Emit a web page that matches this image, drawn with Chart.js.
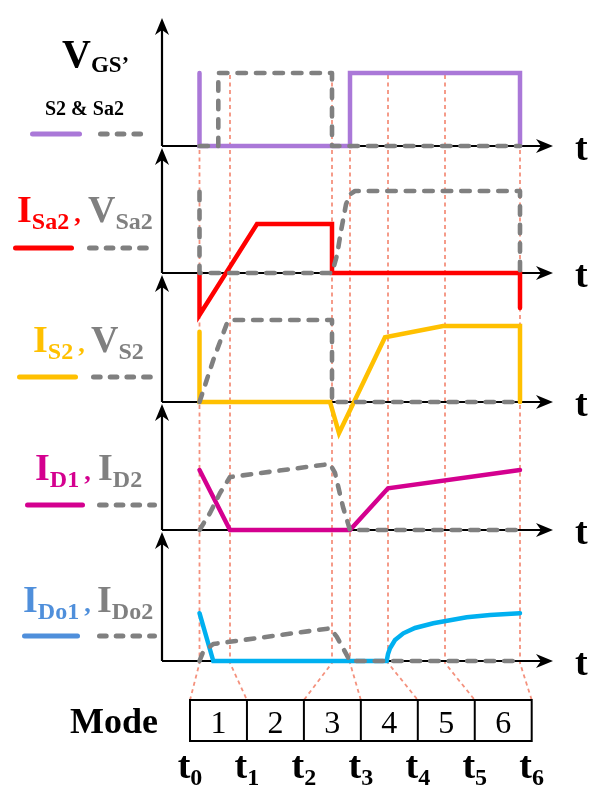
<!DOCTYPE html>
<html>
<head>
<meta charset="utf-8">
<script src="https://cdn.jsdelivr.net/npm/chart.js@4.4.1/dist/chart.umd.min.js"></script>
<style>
  body { margin: 0; background: #fff; }
  #wrap { position: relative; width: 597px; height: 799px; overflow: hidden; }
  canvas { position: absolute; left: 0; top: 0; }
  .lbl { position: absolute; font-family: "Liberation Serif", "Times New Roman", serif; font-weight: bold; font-size: 38px; line-height: 1; white-space: nowrap; }
  .lbl sub { font-size: 24px; vertical-align: -7px; line-height: 1; }
  .lbl .cm { font-size: 26px; margin-left: 5px; }
  .num { font-weight: normal; text-align: center; }
</style>
</head>
<body>
<div id="wrap">
  <canvas id="waveChart" width="597" height="799"></canvas>

  <div class="lbl" style="left:62px;top:34px;font-size:40px">V<sub style="font-size:23px;vertical-align:-5px">GS’</sub></div>
  <div class="lbl" style="left:45px;top:98px;font-size:20px">S2 &amp; Sa2</div>

  <div class="lbl" style="left:17px;top:190px;color:#ff0000">I<sub>Sa2</sub><span class="cm">,</span></div>
  <div class="lbl" style="left:88px;top:190px;color:#808080">V<sub>Sa2</sub></div>

  <div class="lbl" style="left:33px;top:320px;color:#ffc000">I<sub>S2</sub><span class="cm">,</span></div>
  <div class="lbl" style="left:91px;top:320px;color:#808080">V<sub>S2</sub></div>

  <div class="lbl" style="left:35px;top:448px;color:#d4008f">I<sub>D1</sub><span class="cm">,</span></div>
  <div class="lbl" style="left:98px;top:448px;color:#808080">I<sub>D2</sub></div>

  <div class="lbl" style="left:23px;top:580px;color:#4f8fdb">I<sub>Do1</sub><span class="cm">,</span></div>
  <div class="lbl" style="left:97px;top:580px;color:#808080">I<sub>Do2</sub></div>

  <div class="lbl" style="left:70px;top:703px;font-size:36px">Mode</div>
</div>

<script>
// time marks t0..t6 (x axis runs 0 .. 3.91)
const tTimes = [0.375, 0.68, 1.70, 1.88, 2.26, 2.83, 3.58];
const tLabels = ["0", "1", "2", "3", "4", "5", "6"];
const modeLabels = ["1", "2", "3", "4", "5", "6"];
const T = tTimes;
const X_MAX = 3.91;

// panel 1 : V_GS of S2 (solid) and Sa2 (dashed)
const vgsS2 = [[T[0], 0.575], [T[0], 0], [T[3], 0], [T[3], 0.575], [T[6], 0.575], [T[6], 0]];
const vgsSa2 = [[T[0], 0], [0.563, 0], [0.563, 0.575], [T[2], 0.575], [T[2], 0], [T[6], 0]];

// panel 2 : I_Sa2, V_Sa2
const iSa2 = [[T[0], 0], [T[0], -0.33], [0.95, 0.386], [T[2], 0.386], [T[2], 0], [T[6], 0], [T[6], -0.276]];
const vSa2 = [[T[0], 0.64], [T[0], 0], [T[2], 0], [1.75, 0.14], [1.79, 0.33], [1.84, 0.54], [1.88, 0.62], [1.93, 0.646], [T[6], 0.646], [T[6], 0]];

// panel 3 : I_S2, V_S2
const iS2 = [[T[0], 0.554], [T[0], 0], [1.68, 0], [1.77, -0.246], [2.23, 0.509], [2.81, 0.598], [T[6], 0.598], [T[6], 0]];
const vS2 = [[T[0], 0], [0.447, 0.173], [0.513, 0.331], [0.613, 0.543], [0.65, 0.62], [T[1], 0.646], [T[2], 0.646], [T[2], 0], [T[6], 0]];

// panel 4 : I_D1, I_D2
const iD1 = [[T[0], 0.472], [T[1], 0], [T[3], 0], [T[4], 0.328], [T[6], 0.472]];
const iD2 = [[T[0], 0], [0.48, 0.134], [0.58, 0.291], [T[1], 0.417], [1.68, 0.52], [1.73, 0.449], [1.81, 0.181], [T[3], 0], [T[6], 0]];

// panel 5 : I_Do1, I_Do2
const iDo1 = [[T[0], 0.376], [0.513, 0], [2.247, 0], [2.26, 0.055], [2.28, 0.1], [2.33, 0.165], [2.413, 0.218],
  [2.53, 0.26], [2.713, 0.297], [3.047, 0.344], [3.28, 0.362], [T[6], 0.376]];
const iDo2 = [[T[0], 0], [0.41, 0.07], [0.513, 0.134], [1.68, 0.257], [1.747, 0.192], [T[3], 0], [T[6], 0]];

// layout
const H = 799;
const PANEL_BASE = [146, 273, 402, 530, 661];
const UNIT = 127;
const GRAY = "#808080";
const BOX = { left: 190, top: 700, cellW: 56.95, h: 41 };
const GUIDE_TOP = 75, GUIDE_BOTTOM = 663;

const swatches = [
  { color: "#aa78d8", solid: [30, 82], dash: [98, 145], y: 134 },
  { color: "#ff0000", solid: [13, 74], dash: [87, 152], y: 248 },
  { color: "#ffc000", solid: [17, 78], dash: [91, 155], y: 377 },
  { color: "#d4008f", solid: [25, 85], dash: [97, 157], y: 505 },
  { color: "#4f8fdb", solid: [22, 80], dash: [97, 157], y: 636 },
];

function pts(arr) {
  return arr.map((p) => ({ x: p[0], y: p[1] }));
}

function solid(data, color, panel) {
  return {
    data: pts(data), yAxisID: "y" + panel, borderColor: color, borderWidth: 4.5,
    pointRadius: 0, tension: 0, borderCapStyle: "round", borderJoinStyle: "miter", order: 2,
  };
}

function dashed(data, panel) {
  return {
    data: pts(data), yAxisID: "y" + panel, borderColor: GRAY, borderWidth: 4.6,
    pointRadius: 0, tension: 0, borderDash: [8.5, 10], borderCapStyle: "round", borderJoinStyle: "round", order: 1,
  };
}

function boxEdge(i) {
  return BOX.left + i * BOX.cellW;
}

const scales = { x: { type: "linear", min: 0, max: X_MAX, display: false } };
PANEL_BASE.forEach((b, k) => {
  scales["y" + k] = { type: "linear", display: false, min: -(H - b) / UNIT, max: b / UNIT };
});

const framePlugin = {
  id: "frame",
  beforeDatasetsDraw(chart) {
    const ctx = chart.ctx;
    const xs = chart.scales.x;
    const x0 = xs.getPixelForValue(0);
    const x1 = xs.getPixelForValue(X_MAX);
    ctx.save();

    // dotted guides down to the mode table
    ctx.strokeStyle = "#f4917d";
    ctx.lineWidth = 1.8;
    ctx.setLineDash([4, 3.5]);
    tTimes.forEach((t, i) => {
      const px = xs.getPixelForValue(t);
      ctx.beginPath();
      ctx.moveTo(px, GUIDE_TOP);
      ctx.lineTo(px, GUIDE_BOTTOM);
      ctx.lineTo(boxEdge(i), BOX.top);
      ctx.stroke();
    });
    ctx.setLineDash([]);

    // axes with arrows
    ctx.strokeStyle = "#000";
    ctx.fillStyle = "#000";
    ctx.lineWidth = 2.2;
    PANEL_BASE.forEach((b, k) => {
      const base = chart.scales["y" + k].getPixelForValue(0);
      const top = k === 0 ? 18 : chart.scales["y" + (k - 1)].getPixelForValue(0) + 2;
      ctx.beginPath();
      ctx.moveTo(x0, base);
      ctx.lineTo(x1 - 10, base);
      ctx.moveTo(x0, base);
      ctx.lineTo(x0, top + 10);
      ctx.stroke();
      ctx.beginPath();
      ctx.moveTo(x1, base);
      ctx.lineTo(x1 - 17, base - 7);
      ctx.lineTo(x1 - 12, base);
      ctx.lineTo(x1 - 17, base + 7);
      ctx.closePath();
      ctx.fill();
      ctx.beginPath();
      ctx.moveTo(x0, top);
      ctx.lineTo(x0 - 7, top + 17);
      ctx.lineTo(x0, top + 12);
      ctx.lineTo(x0 + 7, top + 17);
      ctx.closePath();
      ctx.fill();
    });
    ctx.restore();
  },
  afterDraw(chart) {
    const ctx = chart.ctx;
    ctx.save();
    // legend swatches
    ctx.lineCap = "round";
    swatches.forEach((s) => {
      ctx.lineWidth = 5;
      ctx.setLineDash([]);
      ctx.strokeStyle = s.color;
      ctx.beginPath();
      ctx.moveTo(s.solid[0] + 2.5, s.y);
      ctx.lineTo(s.solid[1] - 2.5, s.y);
      ctx.stroke();
      ctx.setLineDash([6.7, 10]);
      ctx.strokeStyle = GRAY;
      ctx.beginPath();
      ctx.moveTo(s.dash[0] + 2.5, s.y);
      ctx.lineTo(s.dash[1] - 2.5, s.y);
      ctx.stroke();
    });
    // mode table
    ctx.setLineDash([]);
    ctx.lineCap = "butt";
    ctx.strokeStyle = "#000";
    ctx.lineWidth = 2;
    ctx.strokeRect(BOX.left, BOX.top, BOX.cellW * modeLabels.length, BOX.h);
    for (let i = 1; i < modeLabels.length; i++) {
      ctx.beginPath();
      ctx.moveTo(boxEdge(i), BOX.top);
      ctx.lineTo(boxEdge(i), BOX.top + BOX.h);
      ctx.stroke();
    }
    ctx.restore();
  },
};

new Chart(document.getElementById("waveChart"), {
  type: "line",
  data: {
    datasets: [
      solid(vgsS2, "#aa78d8", 0), dashed(vgsSa2, 0),
      solid(iSa2, "#ff0000", 1), dashed(vSa2, 1),
      solid(iS2, "#ffc000", 2), dashed(vS2, 2),
      solid(iD1, "#d4008f", 3), dashed(iD2, 3),
      solid(iDo1, "#00b0f0", 4), dashed(iDo2, 4),
    ],
  },
  options: {
    responsive: false,
    devicePixelRatio: 1,
    animation: false,
    layout: { padding: { left: 162, right: 597 - 553, top: 0, bottom: 0 } },
    scales: scales,
    plugins: { legend: { display: false }, tooltip: { enabled: false } },
  },
  plugins: [framePlugin],
});

// text: axis "t", mode numbers, t0..t6
const wrap = document.getElementById("wrap");
function addLabel(html, style, cls) {
  const d = document.createElement("div");
  d.className = "lbl" + (cls ? " " + cls : "");
  d.innerHTML = html;
  Object.assign(d.style, style);
  wrap.appendChild(d);
}
PANEL_BASE.forEach((b) => {
  addLabel("t", { left: "575px", top: b + 14 - 32 + "px" });
});
modeLabels.forEach((m, i) => {
  addLabel(m, { left: boxEdge(i) + "px", width: BOX.cellW + "px", top: "706px", fontSize: "32px" }, "num");
});
tLabels.forEach((s, i) => {
  addLabel("t<sub>" + s + "</sub>", { left: boxEdge(i) - 30 + "px", width: "60px", textAlign: "center", top: "746px" });
});
</script>
</body>
</html>
